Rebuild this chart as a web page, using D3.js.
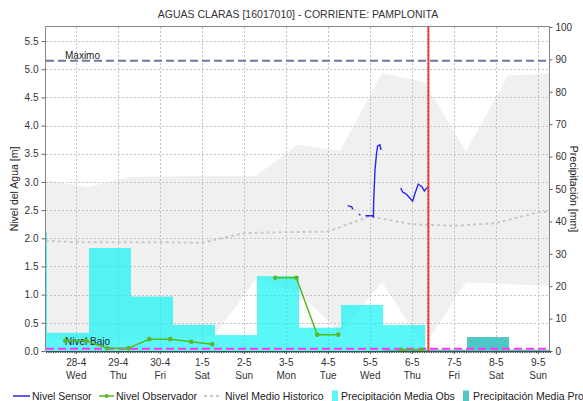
<!DOCTYPE html>
<html>
<head>
<meta charset="utf-8">
<script src="https://cdn.jsdelivr.net/npm/d3@7"></script>
<style>
  body { margin: 0; background: #fff; }
  svg { display: block; font-family: "Liberation Sans", Arial, sans-serif; }
</style>
</head>
<body>
<svg id="chart" width="583" height="401"></svg>
<script>
// ---- data ----
const chartTitle = "AGUAS CLARAS [16017010] - CORRIENTE: PAMPLONITA";
const leftAxisLabel = "Nivel del Agua [m]";
const rightAxisLabel = "Precipitación [mm]";

const dayTicks = ["2021-04-28", "2021-04-29", "2021-04-30", "2021-05-01", "2021-05-02", "2021-05-03",
                  "2021-05-04", "2021-05-05", "2021-05-06", "2021-05-07", "2021-05-08", "2021-05-09"];
const levelTicks = [0, 0.5, 1, 1.5, 2, 2.5, 3, 3.5, 4, 4.5, 5, 5.5];
const precipTicks = [0, 10, 20, 30, 40, 50, 60, 70, 80, 90, 100];

// daily precipitation (mm), each day counted from 07:00
const precipObsDays = ["2021-04-26", "2021-04-27", "2021-04-28", "2021-04-29", "2021-04-30",
                       "2021-05-01", "2021-05-02", "2021-05-03", "2021-05-04", "2021-05-05"];
const precipObs = [36.7, 5.6, 31.8, 16.8, 8.1, 4.9, 23.1, 7.2, 14.2, 8.0];
const precipProDays = ["2021-05-05", "2021-05-06", "2021-05-07", "2021-05-08"];
const precipPro = [0.4, 0.4, 4.3, 0.4];

// historical range of the level (m), at 07:00 each day
const bandDays = ["2021-04-27", "2021-04-28", "2021-04-29", "2021-04-30", "2021-05-01", "2021-05-02", "2021-05-03",
                  "2021-05-04", "2021-05-05", "2021-05-06", "2021-05-07", "2021-05-08", "2021-05-09"];
const bandMax = [3.03, 2.91, 3.09, 3.10, 3.11, 3.11, 3.66, 3.55, 4.93, 4.78, 3.54, 4.89, 4.92];
const bandMin = [0.20, 0.20, 0.20, 0.22, 0.27, 1.27, 1.05, 0.32, 1.22, 0.08, 1.22, 1.19, 1.15];

// mean historical level (m), at midnight
const medioTimes = ["2021-04-27 00:00", "2021-04-28 00:00", "2021-04-29 00:00", "2021-04-30 00:00",
                    "2021-05-01 00:00", "2021-05-02 00:00", "2021-05-03 00:00", "2021-05-04 00:00",
                    "2021-05-05 00:00", "2021-05-06 00:00", "2021-05-07 00:00", "2021-05-08 00:00",
                    "2021-05-09 00:00", "2021-05-10 00:00"];
const medioValues = [1.97, 1.93, 1.93, 1.93, 1.92, 2.09, 2.11, 2.12, 2.39, 2.25, 2.22, 2.27, 2.46, 2.52];

// sensor level (m); null marks a gap in the record
const sensorTimes = ["2021-05-04 11:24", "2021-05-04 13:42", "2021-05-04 14:18", "2021-05-04 16:00",
                     "2021-05-04 17:48", "2021-05-04 18:42", "2021-05-04 20:00",
                     "2021-05-04 21:30", "2021-05-05 01:42", "2021-05-05 02:06", "2021-05-05 02:12",
                     "2021-05-05 03:00", "2021-05-05 03:54", "2021-05-05 04:30", "2021-05-05 05:48",
                     "2021-05-05 06:24", "2021-05-05 12:00",
                     "2021-05-05 17:42", "2021-05-05 18:48", "2021-05-05 20:42", "2021-05-05 23:00",
                     "2021-05-06 00:30", "2021-05-06 01:54", "2021-05-06 03:42", "2021-05-06 05:42",
                     "2021-05-06 07:12", "2021-05-06 08:30", "2021-05-06 09:30"];
const sensorValues = [2.58, 2.56, 2.51, null,
                      2.43, 2.41, null,
                      2.40, 2.40, 2.37, 2.62,
                      3.22, 3.51, 3.64, 3.66,
                      3.57, null,
                      2.89, 2.82, 2.79, 2.71,
                      2.66, 2.80, 2.96, 2.92,
                      2.84, 2.89, 2.91];

// observer readings (m) at 06:00 and 18:00
const obsTimes = ["2021-04-27 18:00", "2021-04-28 06:00", "2021-04-28 18:00", "2021-04-29 06:00",
                  "2021-04-29 18:00", "2021-04-30 06:00", "2021-04-30 18:00", "2021-05-01 06:00",
                  "2021-05-01 18:00", "2021-05-02 06:00", "2021-05-02 18:00", "2021-05-03 06:00",
                  "2021-05-03 18:00", "2021-05-04 06:00", "2021-05-04 18:00", "2021-05-05 06:00",
                  "2021-05-05 18:00", "2021-05-06 06:00"];
const obsValues = [0.18, 0.18, 0.05, 0.05, 0.21, 0.21, 0.165, 0.12,
                   null, null, 1.30, 1.30, 0.29, 0.29, null, null, 0.02, 0.02];

const nivelMaximo = 5.15;
const nivelBajo = 0.04;
const nowTime = "2021-05-06 09:30";
const timeStart = "2021-04-27 07:00";
const timeEnd = "2021-05-09 07:00";

const legendItems = ["Nivel Sensor", "Nivel Observador", "Nivel Medio Historico",
                     "Precipitación Media Obs", "Precipitación Media Pro"];

// ---- drawing ----
const parseT = d3.timeParse("%Y-%m-%d %H:%M");
const parseD = s => parseT(s + " 07:00");
const parseMid = s => parseT(s + " 00:00");

const plot = { left: 46, right: 550, top: 27, bottom: 351 };
const svg = d3.select("#chart");

const x = d3.scaleTime().domain([parseT(timeStart), parseT(timeEnd)]).range([plot.left, plot.right]);
const yL = d3.scaleLinear().domain([0, 5.75]).range([plot.bottom, plot.top]);
const yR = d3.scaleLinear().domain([0, 100]).range([plot.bottom, plot.top]);

const cObs = "#00f2f2", cPro = "#2fbdbd";

svg.append("defs").append("clipPath").attr("id", "plotClip")
  .append("rect").attr("x", plot.left).attr("y", plot.top)
  .attr("width", plot.right - plot.left).attr("height", plot.bottom - plot.top);

const g = svg.append("g").attr("clip-path", "url(#plotClip)");

// historical band
const band = bandDays.map((d, i) => ({ t: parseD(d), hi: bandMax[i], lo: bandMin[i] }));
g.append("path").datum(band)
  .attr("fill", "#f0f0f0")
  .attr("d", d3.area().x(d => x(d.t)).y0(d => yL(d.lo)).y1(d => yL(d.hi)));

// grid
const gridG = g.append("g").attr("stroke", "#c4c4c4").attr("stroke-dasharray", "2,2").attr("stroke-width", 1);
gridG.selectAll("line.v").data(dayTicks.map(parseMid)).join("line")
  .attr("x1", d => Math.round(x(d)) + 0.5).attr("x2", d => Math.round(x(d)) + 0.5)
  .attr("y1", plot.top).attr("y2", plot.bottom);
gridG.selectAll("line.h").data(levelTicks.filter(v => v > 0)).join("line")
  .attr("x1", plot.left).attr("x2", plot.right)
  .attr("y1", d => Math.round(yL(d)) + 0.5).attr("y2", d => Math.round(yL(d)) + 0.5);

// precipitation bars (rendered one pixel to the right of the period edges)
const nextDay = t => d3.timeDay.offset(t, 1);
const barsG = g.append("g").attr("transform", "translate(1,0)");
barsG.selectAll("rect.obs").data(precipObsDays.map((d, i) => ({ t: parseD(d), v: precipObs[i] }))).join("rect")
  .attr("x", d => x(d.t)).attr("width", d => x(nextDay(d.t)) - x(d.t))
  .attr("y", d => yR(d.v)).attr("height", d => yR(0) - yR(d.v))
  .attr("fill", cObs).attr("fill-opacity", 0.65);
barsG.selectAll("rect.pro").data(precipProDays.map((d, i) => ({ t: parseD(d), v: precipPro[i] }))).join("rect")
  .attr("x", d => x(d.t)).attr("width", d => x(nextDay(d.t)) - x(d.t))
  .attr("y", d => yR(d.v)).attr("height", d => yR(0) - yR(d.v))
  .attr("fill", cPro).attr("fill-opacity", 0.85);

// mean historical level
g.append("path").datum(medioTimes.map((t, i) => ({ t: parseT(t), v: medioValues[i] })))
  .attr("fill", "none").attr("stroke", "#c8c8c8").attr("stroke-width", 2).attr("stroke-dasharray", "3,3")
  .attr("d", d3.line().x(d => x(d.t)).y(d => yL(d.v)));

// reference levels
g.append("line").attr("x1", plot.left).attr("x2", plot.right)
  .attr("y1", yL(nivelMaximo)).attr("y2", yL(nivelMaximo))
  .attr("stroke", "#6a7aa2").attr("stroke-width", 2).attr("stroke-dasharray", "8,4");
g.append("line").attr("x1", plot.left).attr("x2", plot.right)
  .attr("y1", yL(nivelBajo)).attr("y2", yL(nivelBajo))
  .attr("stroke", "#ff33ff").attr("stroke-width", 2).attr("stroke-dasharray", "8,4");
g.append("text").attr("x", 65).attr("y", yL(nivelMaximo) - 1.5).text("Maximo")
  .attr("font-size", 10).attr("fill", "#222");
g.append("text").attr("x", 65).attr("y", yL(nivelBajo) - 3.5).text("Nivel Bajo")
  .attr("font-size", 10).attr("fill", "#222");

// observer readings
const obsData = obsTimes.map((t, i) => ({ t: parseT(t), v: obsValues[i] }));
g.append("path").datum(obsData)
  .attr("fill", "none").attr("stroke", "#58b820").attr("stroke-width", 1.5)
  .attr("d", d3.line().defined(d => d.v != null).x(d => x(d.t)).y(d => yL(d.v)));
g.selectAll("circle.obs").data(obsData.filter(d => d.v != null)).join("circle")
  .attr("cx", d => x(d.t)).attr("cy", d => yL(d.v)).attr("r", 2.3).attr("fill", "#58b820");

// sensor level
g.append("path").datum(sensorTimes.map((t, i) => ({ t: parseT(t), v: sensorValues[i] })))
  .attr("fill", "none").attr("stroke", "#2626f0").attr("stroke-width", 1.4)
  .attr("d", d3.line().defined(d => d.v != null).x(d => x(d.t)).y(d => yL(d.v)));

// current time
const xNow = x(parseT(nowTime));
g.append("line").attr("x1", xNow).attr("x2", xNow).attr("y1", plot.top).attr("y2", plot.bottom)
  .attr("stroke", "#ff3c3c").attr("stroke-width", 2);
g.append("line").attr("x1", xNow).attr("x2", xNow).attr("y1", plot.top).attr("y2", plot.bottom)
  .attr("stroke", "#c81818").attr("stroke-width", 1).attr("stroke-dasharray", "1,3");

// frame
svg.append("path")
  .attr("d", `M${plot.left - 0.5},${plot.bottom}V${plot.top - 0.5}H${plot.right - 0.5}V${plot.bottom}`)
  .attr("fill", "none").attr("stroke", "#888");

// axes
const axisFont = g => g.selectAll("text").attr("font-size", 10).attr("fill", "#333")
  .attr("font-family", "Liberation Sans, Arial, sans-serif");

const leftAxis = svg.append("g").attr("transform", `translate(${plot.left - 0.5},0)`)
  .call(d3.axisLeft(yL).tickValues(levelTicks).tickFormat(d3.format(".1f")).tickSize(4).tickPadding(3));
leftAxis.select(".domain").remove();
leftAxis.selectAll(".tick line").attr("stroke", "#666");
leftAxis.call(axisFont);

const rightAxis = svg.append("g").attr("transform", `translate(${plot.right - 0.5},0)`)
  .call(d3.axisRight(yR).tickValues(precipTicks).tickSize(3).tickPadding(3));
rightAxis.select(".domain").remove();
rightAxis.selectAll(".tick line").attr("stroke", "#666");
rightAxis.call(axisFont);

// bottom axis: hourly minor ticks and day labels
const hourAxis = svg.append("g").attr("transform", `translate(0,${plot.bottom})`)
  .call(d3.axisBottom(x).ticks(d3.timeHour.every(1)).tickSize(2).tickFormat(""));
hourAxis.select(".domain").attr("stroke", "#555");
hourAxis.selectAll(".tick line").attr("stroke", "#444");

const dayFmt = d3.timeFormat("%-d-%-m"), wdFmt = d3.timeFormat("%a");
const dayAxis = svg.append("g").attr("transform", `translate(0,${plot.bottom})`)
  .call(d3.axisBottom(x).tickValues(dayTicks.map(parseMid)).tickSize(3).tickFormat(""));
dayAxis.select(".domain").remove();
dayAxis.selectAll(".tick line").attr("stroke", "#444");
dayAxis.selectAll(".tick").append("text")
  .attr("text-anchor", "middle").attr("font-size", 10).attr("fill", "#333")
  .each(function (d) {
    const t = d3.select(this);
    t.append("tspan").attr("x", 0).attr("y", 15).text(dayFmt(d));
    t.append("tspan").attr("x", 0).attr("y", 28).text(wdFmt(d));
  });

// titles
svg.append("text").attr("x", (plot.left + plot.right) / 2).attr("y", 18)
  .attr("text-anchor", "middle").attr("font-size", 10.5).attr("fill", "#333").text(chartTitle);
svg.append("text").attr("transform", `translate(14,${(plot.top + plot.bottom) / 2}) rotate(-90)`)
  .attr("text-anchor", "middle").attr("dy", "0.35em").attr("font-size", 10.5).attr("fill", "#222")
  .text(leftAxisLabel);
svg.append("text").attr("transform", `translate(574,${(plot.top + plot.bottom) / 2}) rotate(90)`)
  .attr("text-anchor", "middle").attr("dy", "0.35em").attr("font-size", 10.5).attr("fill", "#222")
  .text(rightAxisLabel);

// legend
const ly = 396;
const lg = svg.append("g");
lg.append("line").attr("x1", 13).attr("x2", 30).attr("y1", ly).attr("y2", ly)
  .attr("stroke", "#2626f0").attr("stroke-width", 1.5);
lg.append("line").attr("x1", 99).attr("x2", 114).attr("y1", ly).attr("y2", ly)
  .attr("stroke", "#58b820").attr("stroke-width", 1.5);
lg.append("circle").attr("cx", 106.5).attr("cy", ly).attr("r", 2).attr("fill", "#58b820");
lg.append("line").attr("x1", 204).attr("x2", 221).attr("y1", ly).attr("y2", ly)
  .attr("stroke", "#c8c8c8").attr("stroke-width", 2).attr("stroke-dasharray", "3,3");
lg.append("rect").attr("x", 332).attr("y", ly - 5.5).attr("width", 6).attr("height", 11)
  .attr("fill", cObs).attr("fill-opacity", 0.65);
lg.append("rect").attr("x", 463).attr("y", ly - 5.5).attr("width", 6).attr("height", 11)
  .attr("fill", cPro).attr("fill-opacity", 0.85);
const legendX = [32, 116, 225, 341, 473];
lg.selectAll("text").data(legendItems).join("text")
  .attr("x", (d, i) => legendX[i]).attr("y", ly).attr("dy", "0.35em")
  .attr("font-size", 10.5).attr("fill", "#222").text(d => d);
</script>
</body>
</html>
